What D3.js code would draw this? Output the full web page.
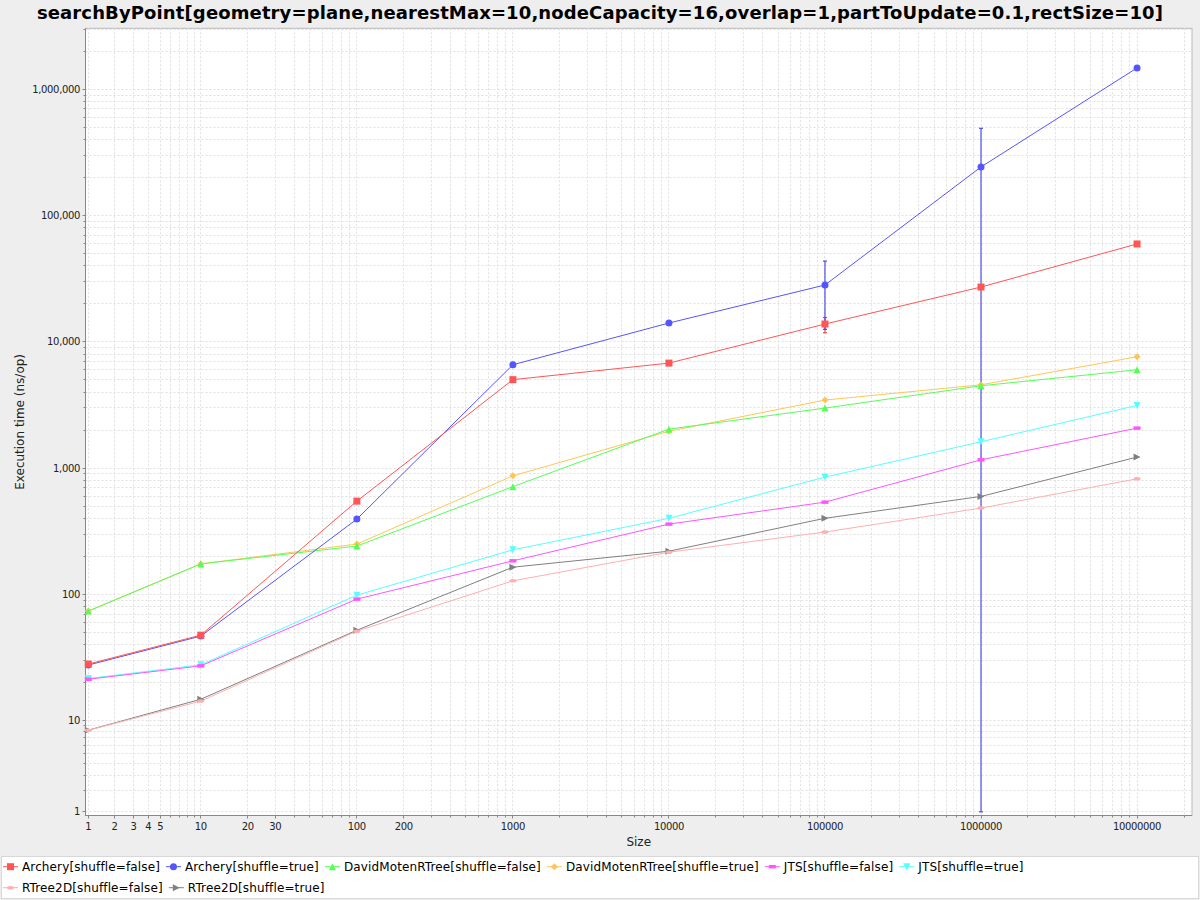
<!DOCTYPE html>
<html><head><meta charset="utf-8">
<script src="https://cdn.jsdelivr.net/npm/d3@7"></script>
<style>
html,body{margin:0;padding:0;background:#eeeeee;}
svg{display:block;font-family:"DejaVu Sans",sans-serif;}
</style></head><body>
<svg id="chart" width="1200" height="900"></svg>
<script>
// ---------------- data ----------------
const chartTitle = "searchByPoint[geometry=plane,nearestMax=10,nodeCapacity=16,overlap=1,partToUpdate=0.1,rectSize=10]";
const xAxisTitle = "Size";
const yAxisTitle = "Execution time (ns/op)";
const sizes = [1, 10, 100, 1000, 10000, 100000, 1000000, 10000000];
const seriesNames = [
  "Archery[shuffle=false]", "Archery[shuffle=true]",
  "DavidMotenRTree[shuffle=false]", "DavidMotenRTree[shuffle=true]",
  "JTS[shuffle=false]", "JTS[shuffle=true]",
  "RTree2D[shuffle=false]", "RTree2D[shuffle=true]"
];
const archeryFalse   = [28.1, 47.6, 548, 5020, 6790, 13840, 27170, 59600];
const archeryTrue    = [27.6, 46.8, 395, 6590, 14100, 28200, 242700, 1476000];
const davidFalse     = [73.8, 174.6, 241.7, 714, 2037, 2990, 4490, 6010];
const davidTrue      = [73.8, 174.6, 250.6, 869, 1963, 3460, 4570, 7620];
const jtsFalse       = [21.3, 27.2, 91.8, 184.6, 360.6, 538, 1164, 2075];
const jtsTrue        = [21.6, 27.7, 98.7, 225.6, 401, 849, 1618, 3140];
const rtree2dFalse   = [8.24, 14.3, 51.2, 128.2, 216, 312, 483, 824];
const rtree2dTrue    = [8.24, 14.8, 52.1, 164.4, 220, 401, 597, 1224];
const seriesValues = [archeryFalse, archeryTrue, davidFalse, davidTrue, jtsFalse, jtsTrue, rtree2dFalse, rtree2dTrue];
// error bars: [seriesIndex, size, low, high]
const errorSeries = [0, 1, 1];
const errorSizes  = [100000, 100000, 1000000];
const errorLow    = [11800, 12560, 1];
const errorHigh   = [15600, 43600, 491000];
const xTickLabels = [1, 2, 3, 4, 5, 10, 20, 30, 100, 200, 1000, 10000, 100000, 1000000, 10000000];
const yTickLabels = [1, 10, 100, 1000, 10000, 100000, 1000000];
const xDomain = [0.915, 2.25e7];
const yDomain = [0.863, 3.04e6];
const legendPerRow = 6;

// ---------------- style ----------------
const colors = ["#ff5555", "#5555ff", "#55ff55", "#ffc655", "#ff55ff", "#55ffff", "#ffafaf", "#808080"];
const shapes = ["square", "circle", "triUp", "diamond", "hrect", "triDown", "hellipse", "triRight"];

const svg = d3.select("#chart");
const plot = {left: 85.5, top: 28.3, right: 1192, bottom: 815.5};

// JFreeChart LogarithmicAxis style adjusted log10
const adjLog = v => Math.log10(v < 10 ? v + (10 - v) / 10 : v);
const xLin = d3.scaleLinear().domain(xDomain.map(adjLog)).range([plot.left, plot.right]);
const yLin = d3.scaleLinear().domain(yDomain.map(adjLog)).range([plot.bottom, plot.top]);
const X = v => xLin(adjLog(v));
const Y = v => yLin(adjLog(Math.max(v, yDomain[0])));

svg.append("rect").attr("width", 1200).attr("height", 900).attr("fill", "#eeeeee");

// title
svg.append("text").attr("x", 600).attr("y", 18.5).attr("text-anchor", "middle")
  .attr("font-size", 18).attr("font-weight", "bold").attr("letter-spacing", "0.12px")
  .attr("fill", "#000").text(chartTitle);

// plot background
svg.append("rect").attr("x", plot.left).attr("y", plot.top)
  .attr("width", plot.right - plot.left).attr("height", plot.bottom - plot.top)
  .attr("fill", "#ffffff").attr("stroke", "#b8b8b8").attr("stroke-width", 1);

// grid values
function gridValues(domain, maxDec) {
  const out = [];
  for (let d = 0; d <= maxDec; d++) for (let m = 1; m <= 9; m++) {
    const v = m * Math.pow(10, d);
    if (v >= domain[0] && v <= domain[1]) out.push(v);
  }
  return out;
}
const xGrid = gridValues(xDomain, 7);
const yGrid = gridValues(yDomain, 6);
const crisp = p => Math.round(p - 0.5) + 0.5;

const grid = svg.append("g");
grid.selectAll("line.gx").data(xGrid).join("line").attr("class", "gx")
  .attr("x1", d => crisp(X(d))).attr("x2", d => crisp(X(d)))
  .attr("y1", plot.top).attr("y2", plot.bottom)
  .attr("stroke", "#e0e0e0").attr("stroke-width", 1).attr("stroke-dasharray", "2,2");
grid.selectAll("line.gy").data(yGrid).join("line").attr("class", "gy")
  .attr("y1", d => crisp(Y(d))).attr("y2", d => crisp(Y(d)))
  .attr("x1", plot.left).attr("x2", plot.right)
  .attr("stroke", "#e0e0e0").attr("stroke-width", 1).attr("stroke-dasharray", "2,2");

// axes lines
svg.append("line").attr("x1", plot.left).attr("x2", plot.left).attr("y1", plot.top).attr("y2", plot.bottom + 0.5)
  .attr("stroke", "#888").attr("stroke-width", 1);
svg.append("line").attr("x1", plot.left).attr("x2", plot.right).attr("y1", plot.bottom).attr("y2", plot.bottom)
  .attr("stroke", "#888").attr("stroke-width", 1);

// ticks
svg.append("g").selectAll("line").data(xGrid).join("line")
  .attr("x1", d => crisp(X(d))).attr("x2", d => crisp(X(d)))
  .attr("y1", plot.bottom).attr("y2", d => plot.bottom + (xTickLabels.includes(d) ? 3 : 2))
  .attr("stroke", "#888");
svg.append("g").selectAll("line").data(yGrid).join("line")
  .attr("y1", d => crisp(Y(d))).attr("y2", d => crisp(Y(d)))
  .attr("x1", plot.left).attr("x2", d => plot.left - (yTickLabels.includes(d) ? 3 : 2))
  .attr("stroke", "#888");

// tick labels
const fmtComma = d3.format(",");
svg.append("g").selectAll("text").data(xTickLabels).join("text")
  .attr("x", d => X(d)).attr("y", 830).attr("text-anchor", "middle")
  .attr("font-size", 10).attr("letter-spacing", "-0.35px").attr("fill", "#222").text(d => String(d));
svg.append("g").selectAll("text").data(yTickLabels).join("text")
  .attr("x", 80).attr("y", d => Y(d) + 3.6).attr("text-anchor", "end")
  .attr("font-size", 10).attr("letter-spacing", "-0.35px").attr("fill", "#222").text(d => fmtComma(d));

// axis titles
svg.append("text").attr("x", (plot.left + plot.right) / 2).attr("y", 846).attr("text-anchor", "middle")
  .attr("font-size", 12).attr("fill", "#222").text(xAxisTitle);
svg.append("text").attr("transform", `translate(23.5,${(plot.top + plot.bottom) / 2}) rotate(-90)`)
  .attr("text-anchor", "middle").attr("font-size", 12).attr("fill", "#222").text(yAxisTitle);

// shapes
const S = 3.5;
function shapeNode(sel, type, color) {
  let n;
  if (type === "circle") n = sel.append("circle").attr("r", S);
  else if (type === "hellipse") n = sel.append("ellipse").attr("rx", S).attr("ry", S / 2);
  else {
    const p = {
      square: `M${-S},${-S}H${S}V${S}H${-S}Z`,
      triUp: `M0,${-S}L${S},${S}L${-S},${S}Z`,
      diamond: `M0,${-S}L${S},0L0,${S}L${-S},0Z`,
      hrect: `M${-S},${-S / 2}H${S}V${S / 2}H${-S}Z`,
      triDown: `M${-S},${-S}L${S},${-S}L0,${S}Z`,
      triRight: `M${-S},${-S}L${S},0L${-S},${S}Z`
    }[type];
    n = sel.append("path").attr("d", p);
  }
  n.attr("fill", color);
  return n;
}

const dataG = svg.append("g");
// error bars
const errData = errorSeries.map((s, i) => ({s, x: errorSizes[i], lo: errorLow[i], hi: errorHigh[i]}));
const eg = dataG.append("g");
errData.forEach(e => {
  const c = d3.color(colors[e.s]).darker(0.3);
  const x = X(e.x);
  eg.append("line").attr("x1", x).attr("x2", x).attr("y1", Y(e.lo)).attr("y2", Y(e.hi)).attr("stroke", c).attr("stroke-width", 1.2);
  [e.lo, e.hi].forEach(v => eg.append("line").attr("x1", x - 2).attr("x2", x + 2).attr("y1", Y(v)).attr("y2", Y(v)).attr("stroke", c).attr("stroke-width", 1.2));
});

// lines (reverse order so first series on top)
const order = d3.range(seriesValues.length).reverse();
const lineGen = d3.line().x(d => X(d[0])).y(d => Y(d[1]));
order.forEach(i => {
  dataG.append("path").datum(sizes.map((s, k) => [s, seriesValues[i][k]]))
    .attr("d", lineGen).attr("fill", "none").attr("stroke", colors[i]).attr("stroke-width", 1);
});
order.forEach(i => {
  const g = dataG.append("g");
  g.selectAll("g").data(sizes.map((s, k) => [s, seriesValues[i][k]])).join("g")
    .attr("transform", d => `translate(${X(d[0])},${Y(d[1])})`)
    .each(function () { shapeNode(d3.select(this), shapes[i], colors[i]); });
});

// legend
svg.append("rect").attr("x", 1.5).attr("y", 856.5).attr("width", 1197).attr("height", 42)
  .attr("fill", "#fff").attr("stroke", "#d8d8d8");
const lg = svg.append("g").attr("font-size", 12).attr("letter-spacing", "0.13px");
let lx = 3;
const rowY = [871, 892];
seriesNames.forEach((name, i) => {
  const row = Math.floor(i / legendPerRow);
  if (i % legendPerRow === 0) lx = 3;
  const t = lg.append("text").attr("fill", "#000").text(name);
  const w = t.node().getComputedTextLength();
  const cy = rowY[row] - 4.3;
  lg.append("line").attr("x1", lx).attr("x2", lx + 15).attr("y1", cy).attr("y2", cy).attr("stroke", colors[i]).attr("stroke-width", 1);
  shapeNode(lg.append("g").attr("transform", `translate(${lx + 7.5},${cy})`), shapes[i], colors[i]);
  t.attr("x", lx + 19).attr("y", rowY[row]);
  lx = lx + 19 + w + 6;
});
</script>
</body></html>
